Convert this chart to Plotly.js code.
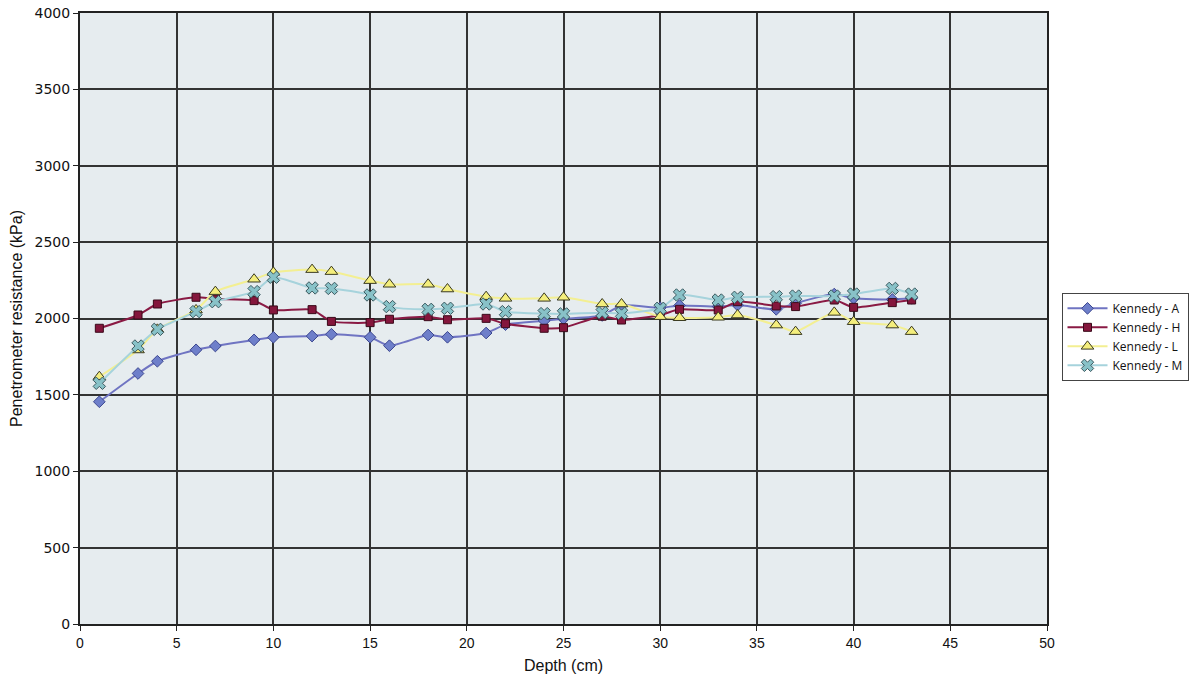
<!DOCTYPE html>
<html>
<head>
<meta charset="utf-8">
<script src="https://cdn.plot.ly/plotly-3.0.1.min.js"></script>
<style>html,body{margin:0;padding:0;background:#fff;}#chart{width:1200px;height:682px;}</style>
</head>
<body>
<div id="chart"></div>
<script>
const depth = [1,3,4,6,7,9,10,12,13,15,16,18,19,21,22,24,25,27,28,30,31,33,34,36,37,39,40,42,43];
const kennedyA = [1455,1640,1720,1795,1820,1860,1877,1885,1897,1877,1822,1892,1877,1905,1960,1985,1998,2020,2085,2070,2085,2078,2088,2060,2100,2160,2132,2125,2132];
const kennedyH = [1936,2023,2095,2139,2127,2117,2056,2058,1981,1973,1995,2012,1992,2001,1966,1936,1940,2015,1990,2023,2060,2056,2110,2082,2078,2121,2073,2104,2121];
const kennedyL = [1619,1794,1929,2056,2176,2257,2302,2320,2307,2248,2224,2224,2193,2143,2132,2132,2139,2095,2095,2012,2005,2008,2023,1957,1914,2040,1979,1957,1914];
const kennedyM = [1576,1820,1929,2045,2110,2176,2270,2200,2197,2154,2078,2060,2067,2095,2045,2032,2030,2038,2034,2067,2154,2121,2139,2143,2147,2147,2160,2197,2160];
const seriesNames = ['Kennedy - A','Kennedy - H','Kennedy - L','Kennedy - M'];
const xTicks = [0,5,10,15,20,25,30,35,40,45,50];
const yTicks = [0,500,1000,1500,2000,2500,3000,3500,4000];

const styles = [
  {line:'#6f74c2', fill:'#6e7fca', edge:'#3b4690', symbol:'diamond', size:9},
  {line:'#8a1a44', fill:'#84163c', edge:'#3a0a1a', symbol:'square', size:8},
  {line:'#f3ef92', fill:'#f4ee7c', edge:'#3a3a20', symbol:'triangle-up', size:11},
  {line:'#a6d3dc', fill:'#88c2c8', edge:'#3c5a60', symbol:'x', size:11}
];
const values = [kennedyA, kennedyH, kennedyL, kennedyM];

const traces = values.map((v,i)=>({
  type:'scatter', mode:'lines+markers', name:seriesNames[i],
  x:depth, y:v,
  line:{color:styles[i].line, width:2, shape:'spline', smoothing:0.6},
  marker:{symbol:styles[i].symbol, size:styles[i].size, color:styles[i].fill,
          line:{color:styles[i].edge, width:1}}
}));

const layout = {
  width:1200, height:682,
  margin:{l:80, r:150, t:13, b:58},
  paper_bgcolor:'#ffffff',
  plot_bgcolor:'#e6ecef',
  showlegend:true,
  legend:{x:1.015, y:0.47, xanchor:'left', yanchor:'middle',
          bgcolor:'#ffffff', bordercolor:'#444', borderwidth:1,
          itemwidth:40,
          font:{family:'Open Sans, Liberation Sans, sans-serif', size:12, color:'#111'},
          tracegroupgap:2},
  xaxis:{range:[0,50], tickvals:xTicks, ticktext:xTicks.map(String),
         showgrid:true, gridcolor:'#333333', gridwidth:2,
         zeroline:false, showline:true, linecolor:'#222', linewidth:2, mirror:true,
         ticks:'outside', ticklen:5, tickcolor:'#222',
         tickfont:{family:'Liberation Sans Narrow, Liberation Sans, sans-serif', size:14, color:'#111'},
         title:{text:'Depth (cm)', font:{family:'Liberation Sans, Arial, sans-serif', size:16, color:'#111'}, standoff:10}},
  yaxis:{range:[0,4000], tickvals:yTicks, ticktext:yTicks.map(String),
         showgrid:true, gridcolor:'#333333', gridwidth:2,
         zeroline:false, showline:true, linecolor:'#222', linewidth:2, mirror:true,
         ticks:'outside', ticklen:5, tickcolor:'#222',
         tickfont:{family:'DejaVu Sans, Verdana, sans-serif', size:14, color:'#111'},
         title:{text:'Penetrometer resistance (kPa)', font:{family:'Liberation Sans, Arial, sans-serif', size:16, color:'#111'}, standoff:8}}
};

Plotly.newPlot('chart', traces, layout, {displayModeBar:false, staticPlot:true});
</script>
</body>
</html>
